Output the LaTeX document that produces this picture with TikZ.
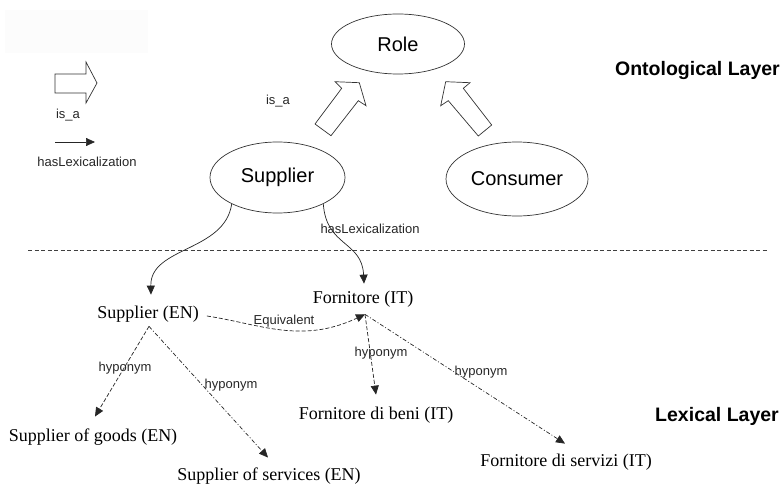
\documentclass[tikz,border=0pt]{standalone}
\usepackage{fontspec}
\setmainfont{Liberation Serif}
\setsansfont{Liberation Sans}
\usetikzlibrary{arrows.meta,shapes.geometric}
\begin{document}
\begin{tikzpicture}[x=1pt,y=-1pt,
  concept/.style={ellipse,draw=black!80,line width=0.7pt,inner sep=0pt,font=\sffamily\fontsize{20}{22}\selectfont},
  term/.style={inner sep=0pt,font=\fontsize{18}{20}\selectfont},
  lbl/.style={inner sep=0pt,font=\sffamily\fontsize{13}{14}\selectfont,text=black!85},
  layer/.style={inner sep=0pt,font=\sffamily\bfseries\fontsize{19.5}{21}\selectfont},
  tip/.style={-{Triangle[length=9pt,width=8pt]}},
  lex/.style={tip,draw=black!85,line width=0.7pt},
  dsh/.style={lex,dash pattern=on 4pt off 2pt},
  dshdot/.style={lex,dash pattern=on 4pt off 2pt on 1pt off 2pt},
  block/.style={draw=black!80,line width=0.7pt,fill=white,line join=miter}]
\useasboundingbox (0,0) rectangle (781,484);
\fill[black!1] (5,10) rectangle (148,53);

% legend
\draw[block] (55,74) -- (86,74) -- (86,62) -- (97,83) -- (86,103) -- (86,93) -- (55,93) -- cycle;
\node[lbl] (legisa) at (68,115) {is\_a};
\coordinate (legA) at (55,142);
\coordinate (legB) at (95,142);
\draw[lex] (legA) -- (legB);
\node[lbl] (leghas) at (87,162) {hasLexicalization};

% layers
\node[layer,anchor=east] (onto) at (780,71) {Ontological Layer};
\node[layer,anchor=east] (lexl) at (779,416) {Lexical Layer};

% ontological concepts
\node[concept,minimum width=133pt,minimum height=60pt] (role) at (398,44) {Role};
\node[concept,minimum width=135pt,minimum height=71pt] (sup) at (277.5,177.5) {Supplier};
\node[concept,minimum width=142pt,minimum height=74pt] (cons) at (517,179) {Consumer};

% is_a block arrows
\draw[block] (315,124) -- (341.7,88.3) -- (335,81.7) -- (359.3,82.7) -- (366,105.7) -- (358.3,100.7) -- (331,135.7) -- cycle;
\draw[block] (491.7,125) -- (463.3,88.3) -- (470,82.7) -- (445.7,81.7) -- (440.7,105.7) -- (448.3,100.7) -- (478.3,136) -- cycle;
\node[lbl] (isa) at (278,101) {is\_a};

% separator
\coordinate (sepL) at (28,250);
\coordinate (sepR) at (768,250);
\draw[black!75,line width=0.6pt,dash pattern=on 4pt off 2.5pt] (sepL) -- (sepR);

% lexical terms
\node[term] (supEN) at (148,314) {Supplier (EN)};
\node[term] (forIT) at (363,299) {Fornitore (IT)};
\node[term] (goods) at (93,437) {Supplier of goods (EN)};
\node[term] (serv) at (269,476) {Supplier of services (EN)};
\node[term] (beni) at (376,415) {Fornitore di beni (IT)};
\node[term] (servizi) at (566,462) {Fornitore di servizi (IT)};

\coordinate (supENtop) at ([xshift=3pt,yshift=11pt]supEN.north);
\coordinate (forITtop) at ([xshift=1pt,yshift=7pt]forIT.north);
\coordinate (supENbot) at ([xshift=1pt,yshift=-4pt]supEN.south);
\coordinate (forITbot) at ([xshift=2pt,yshift=-7pt]forIT.south);
\coordinate (supENright) at ([xshift=8pt,yshift=-2pt]supEN.east);
\coordinate (goodsTop) at ([xshift=2pt,yshift=12pt]goods.north);
\coordinate (servTop) at ([xshift=-1pt,yshift=10pt]serv.north);
\coordinate (beniTop) at ([yshift=12pt]beni.north);
\coordinate (serviziTop) at ([xshift=-1pt,yshift=10pt]servizi.north);

% hasLexicalization
\draw[lex] (sup.210) .. controls +(-7,48) and +(-1,-48) .. (supENtop);
\draw[lex] (sup.-30) .. controls +(3,43) and +(-2,-43) .. (forITtop);
\node[lbl] (has) at (370,229) {hasLexicalization};

% equivalent
\draw[dsh] (supENright) .. controls +(53,8) and +(-64,30) .. (forITbot);
\node[lbl] (equiv) at (284,321) {Equivalent};

% hyponyms
\draw[dsh] (supENbot) -- (goodsTop);
\draw[dshdot] (supENbot) -- (servTop);
\draw[dsh] (forITbot) -- (beniTop);
\draw[dshdot] (forITbot) -- (serviziTop);
\node[lbl] (h1) at (125,368) {hyponym};
\node[lbl] (h2) at (231,385) {hyponym};
\node[lbl] (h3) at (381,353) {hyponym};
\node[lbl] (h4) at (481,372) {hyponym};
\end{tikzpicture}
\end{document}
